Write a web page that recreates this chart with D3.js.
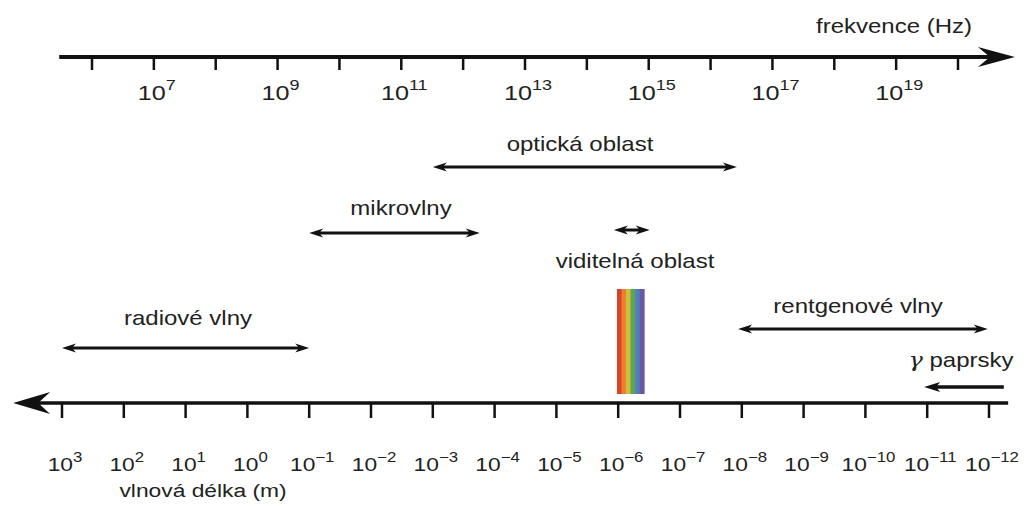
<!DOCTYPE html>
<html>
<head>
<meta charset="utf-8">
<script src="https://cdn.jsdelivr.net/npm/d3@7"></script>
<style>
  html, body { margin: 0; padding: 0; background: #fff; }
  svg { display: block; }
  text { font-family: "Liberation Sans", Arial, Helvetica, sans-serif; fill: #222; }
</style>
</head>
<body>
<svg id="chart" width="1029" height="506"></svg>
<script>
// Frequency axis: decade exponents with ticks, and the ones that get labels
const freqTickExps = [6, 7, 8, 9, 10, 11, 12, 13, 14, 15, 16, 17, 18, 19, 20];
const freqLabelExps = [7, 9, 11, 13, 15, 17, 19];

// Wavelength axis (metres): every decade is ticked and labelled
const waveTickExps = [3, 2, 1, 0, -1, -2, -3, -4, -5, -6, -7, -8, -9, -10, -11, -12];

// Spectral regions as log10 of wavelength (m): start and end of each arrow
const regionNames = ["optická oblast", "mikrovlny", "viditelná oblast", "radiové vlny", "rentgenové vlny", "γ paprsky"];
const regionFrom  = [-3.0, -1.0, -5.93, 3.0, -7.94, -12.24];
const regionTo    = [-7.92, -3.76, -6.51, -1.0, -11.98, -10.95];
const regionBothEnds = [true, true, true, true, true, false];

// Visible light strip (log10 wavelength) and its colour bands
const visibleFrom = -5.98;
const visibleTo = -6.42;
const visibleColors = ["#d8432c", "#ee7f2f", "#cdbf3e", "#5ea552", "#4f7fb4", "#6a58a6"];

const svg = d3.select("#chart");
const SX = 1.2; // horizontal stretch applied to all lettering

// Scales: exponent -> x position
const xFreq = d3.scaleLinear().domain([6, 20]).range([92, 958]);
const xWave = d3.scaleLinear().domain([3, -12]).range([62, 989]);

function label(g, x, y, anchor, size) {
  return g.append("text")
    .attr("transform", `translate(${x},${y}) scale(${SX},1)`)
    .attr("text-anchor", anchor)
    .attr("font-size", size);
}

function powerLabel(g, x, y, exp, size, supSize, rise) {
  const t = label(g, x, y, "middle", size);
  t.append("tspan").text("10");
  const e = exp < 0 ? "\u2212" + Math.abs(exp) : String(exp);
  t.append("tspan").attr("font-size", supSize).attr("dy", -rise).text(e);
  return t;
}

// Barbed arrowhead path; dir = +1 points right, -1 points left
function headPath(tipX, y, dir, len, half, notch) {
  const bx = tipX - dir * len;
  const nx = tipX - dir * (len - notch);
  return `M${tipX},${y} L${bx},${y - half} L${nx},${y} L${bx},${y + half} Z`;
}

// ---------- frequency axis (top) ----------
const freqG = svg.append("g");
const freqY = 57;
freqG.append("line")
  .attr("x1", xFreq(5.47)).attr("x2", xFreq(20.55))
  .attr("y1", freqY).attr("y2", freqY)
  .attr("stroke", "#111").attr("stroke-width", 4);
freqG.append("path")
  .attr("d", headPath(xFreq(20.92), freqY, 1, 37, 10, 12))
  .attr("fill", "#111");
freqG.selectAll("line.tick").data(freqTickExps).enter().append("line")
  .attr("class", "tick")
  .attr("x1", d => xFreq(d)).attr("x2", d => xFreq(d))
  .attr("y1", freqY).attr("y2", freqY + 13)
  .attr("stroke", "#111").attr("stroke-width", 2.5);
freqLabelExps.forEach(d => powerLabel(freqG, xFreq(d) + 3, 100, d, 21, 15, 10));
label(freqG, 894, 33, "middle", 20).text("frekvence (Hz)");

// ---------- wavelength axis (bottom) ----------
const waveG = svg.append("g");
const waveY = 403;
waveG.append("line")
  .attr("x1", xWave(3.4)).attr("x2", xWave(-12.31))
  .attr("y1", waveY).attr("y2", waveY)
  .attr("stroke", "#111").attr("stroke-width", 3.5);
waveG.append("path")
  .attr("d", headPath(xWave(3.79), waveY, -1, 37, 11, 12))
  .attr("fill", "#111");
waveG.selectAll("line.tick").data(waveTickExps).enter().append("line")
  .attr("class", "tick")
  .attr("x1", d => xWave(d)).attr("x2", d => xWave(d))
  .attr("y1", waveY).attr("y2", waveY + 15)
  .attr("stroke", "#111").attr("stroke-width", 2.5);
waveTickExps.forEach(d => powerLabel(waveG, xWave(d) + 3, 471, d, 19, 14, 9));
label(waveG, 203, 497, "middle", 19).text("vlnová délka (m)");

// ---------- visible light strip ----------
const bandScale = d3.scaleBand()
  .domain(d3.range(visibleColors.length))
  .range([xWave(visibleFrom), xWave(visibleTo)]);
svg.append("g").selectAll("rect").data(visibleColors).enter().append("rect")
  .attr("x", (d, i) => bandScale(i))
  .attr("width", bandScale.bandwidth() + 0.5)
  .attr("y", 289).attr("height", waveY - 289 - 9)
  .attr("fill", d => d);

// ---------- region arrows ----------
const rowY = [167, 233, 230, 348, 329, 387];             // arrow line heights
const textPos = [[580, 151], [401, 215], [635, 268], [188, 325], [858, 313], [961, 367]];

const regions = svg.append("g");
regionNames.forEach((name, i) => {
  const y = rowY[i];
  const xa = xWave(regionFrom[i]);
  const xb = xWave(regionTo[i]);
  const left = Math.min(xa, xb), right = Math.max(xa, xb);
  const inset = 8;
  if (regionBothEnds[i]) {
    regions.append("line")
      .attr("x1", left + inset).attr("x2", right - inset)
      .attr("y1", y).attr("y2", y)
      .attr("stroke", "#111").attr("stroke-width", 3);
    regions.append("path").attr("d", headPath(left, y, -1, 14, 4.5, 4)).attr("fill", "#111");
    regions.append("path").attr("d", headPath(right, y, 1, 14, 4.5, 4)).attr("fill", "#111");
  } else {
    // single-headed: tail at "from", tip at "to"
    const dir = xb > xa ? 1 : -1;
    regions.append("line")
      .attr("x1", xa).attr("x2", xb - dir * inset)
      .attr("y1", y).attr("y2", y)
      .attr("stroke", "#111").attr("stroke-width", 3.5);
    regions.append("path").attr("d", headPath(xb, y, dir, 16, 5, 4)).attr("fill", "#111");
  }
  const t = label(regions, textPos[i][0], textPos[i][1], "middle", 20);
  if (name.startsWith("γ")) {
    t.append("tspan").attr("font-family", "'DejaVu Serif', serif").attr("font-style", "italic").text("γ");
    t.append("tspan").text(name.slice(1));
  } else {
    t.text(name);
  }
});
</script>
</body>
</html>
